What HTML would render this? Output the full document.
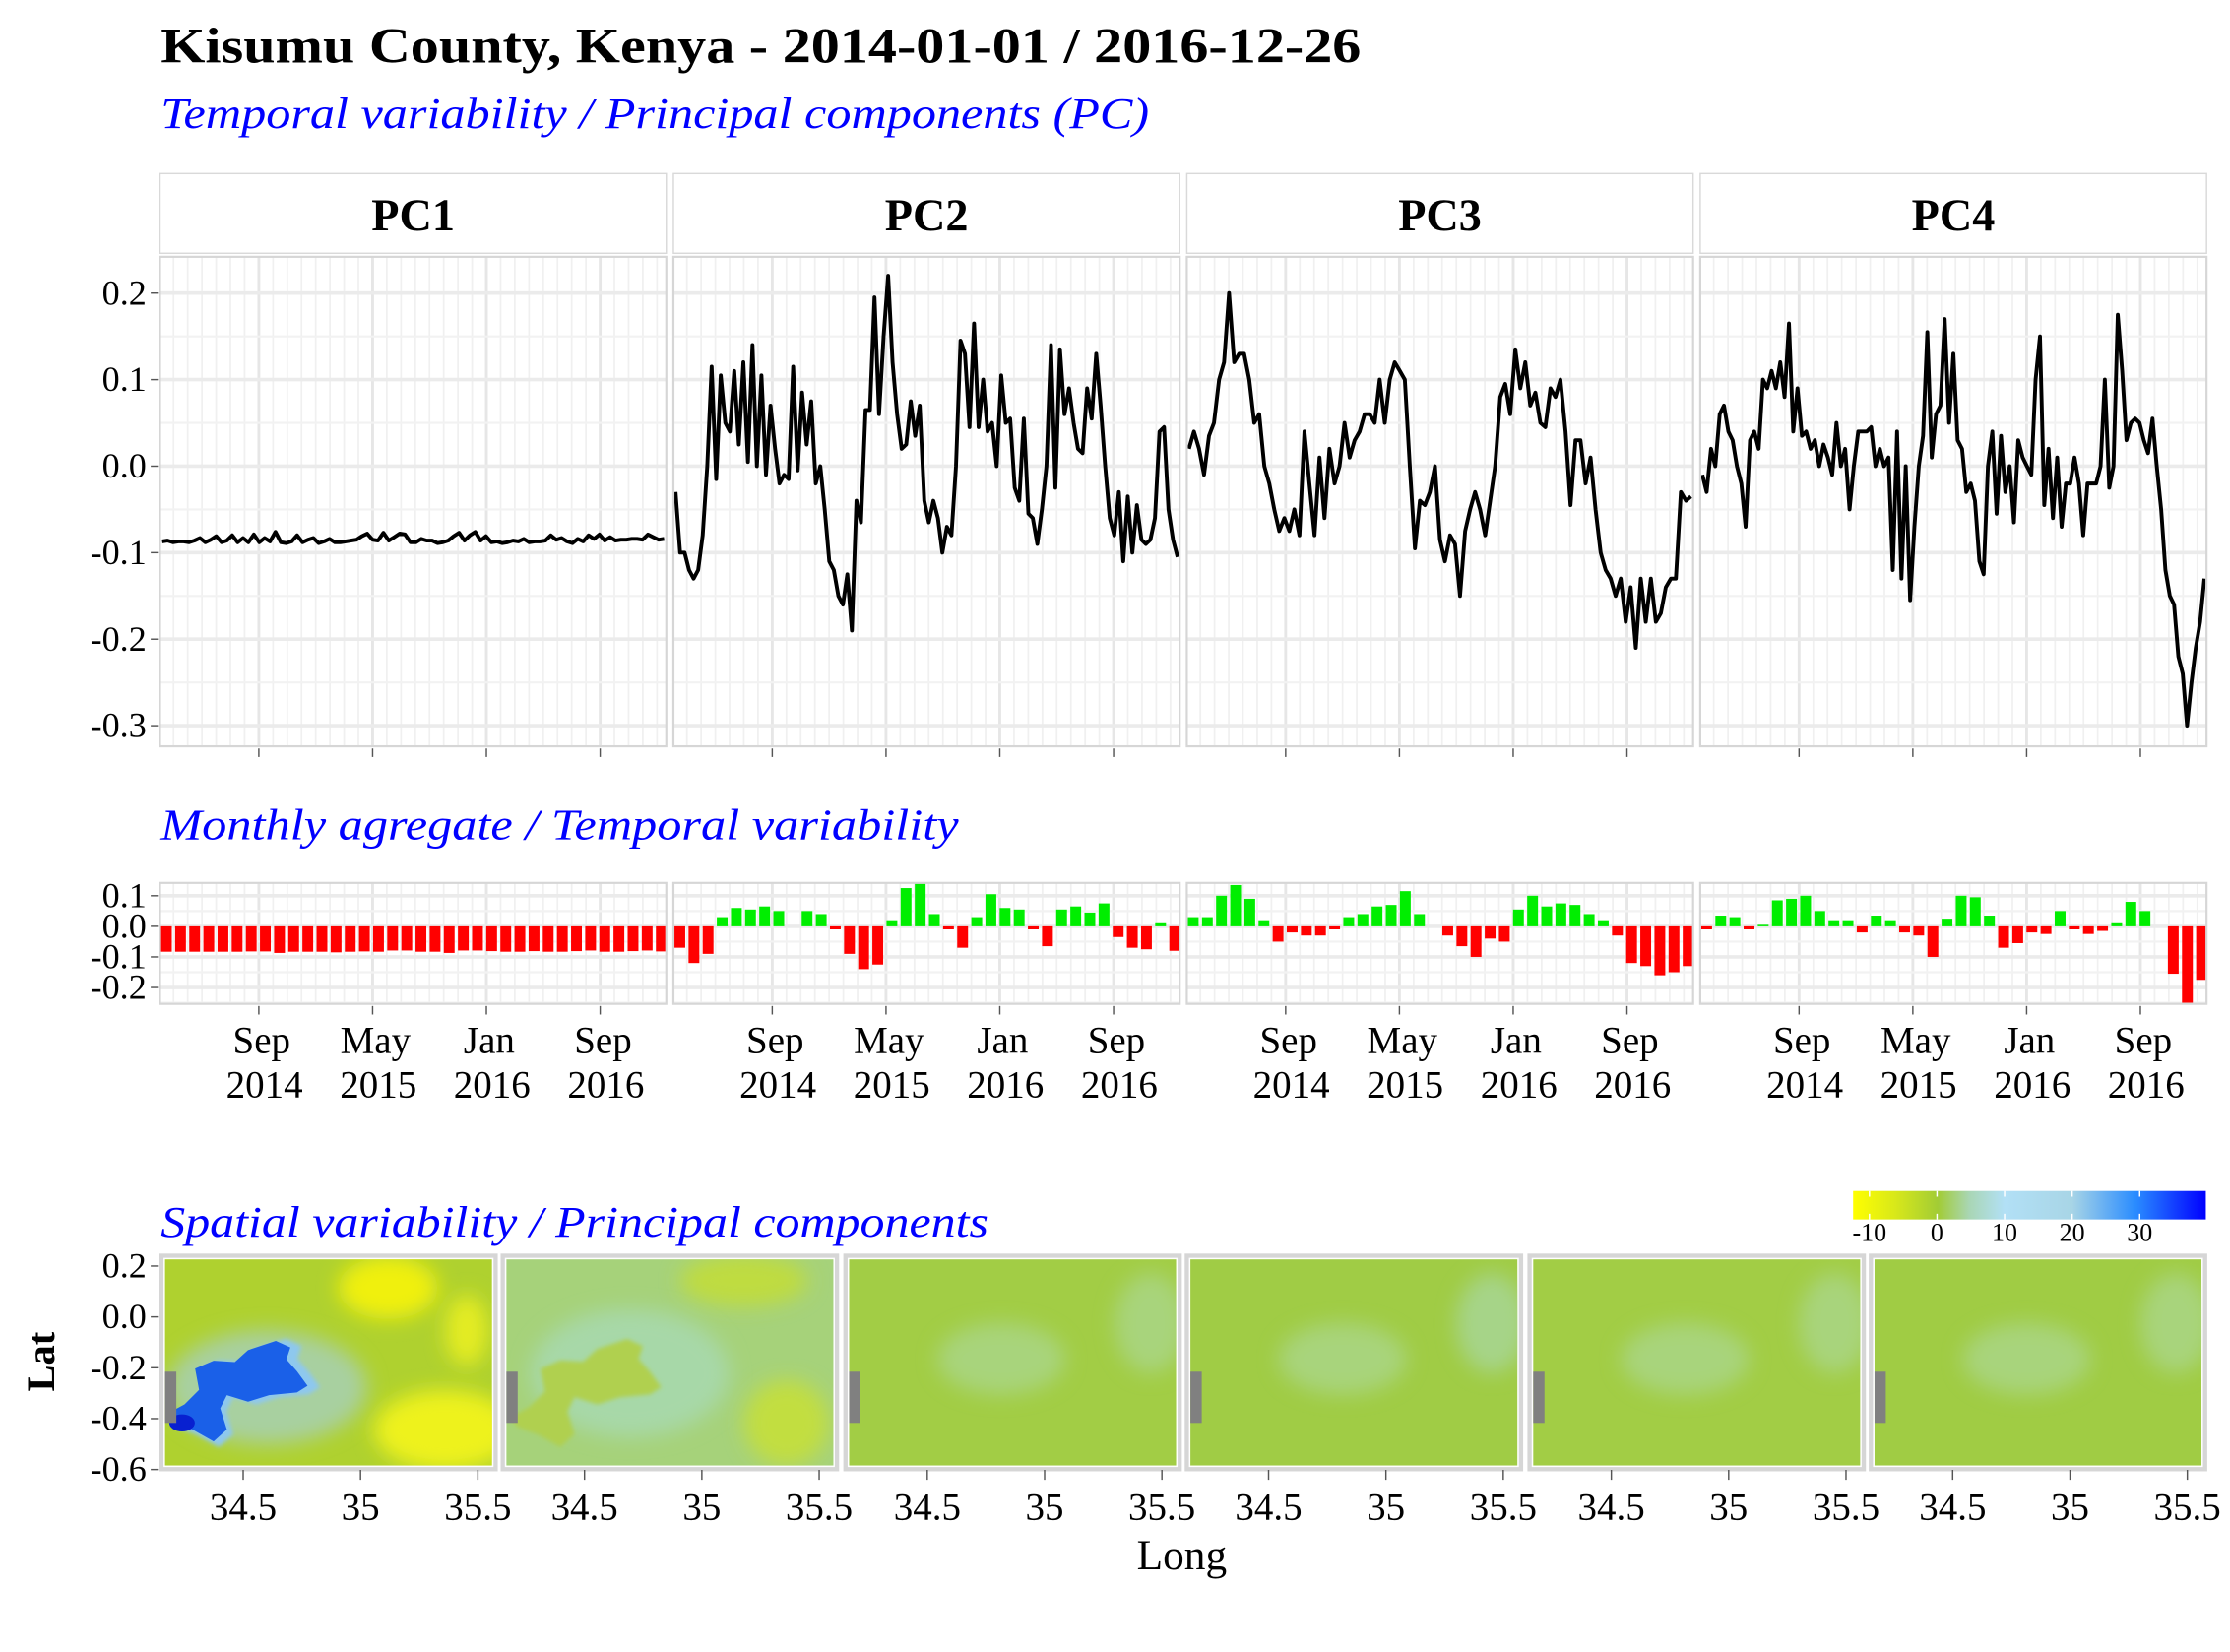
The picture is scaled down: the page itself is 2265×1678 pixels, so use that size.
<!DOCTYPE html>
<html><head><meta charset="utf-8"><style>
html,body{margin:0;padding:0;background:#fff;}
svg{display:block;font-family:"Liberation Serif",serif;}
</style></head><body>
<svg id="chart" width="2265" height="1678" viewBox="0 0 1568 1161" preserveAspectRatio="none" xmlns="http://www.w3.org/2000/svg">
<defs>
<linearGradient id="cbar" x1="0" x2="1" y1="0" y2="0">
<stop offset="0" stop-color="#ffff00"/><stop offset="0.12" stop-color="#d8e81a"/><stop offset="0.24" stop-color="#a2cc35"/>
<stop offset="0.33" stop-color="#a9d6b5"/><stop offset="0.43" stop-color="#b2e0f6"/><stop offset="0.62" stop-color="#a8d5e6"/>
<stop offset="0.8" stop-color="#2a8cff"/><stop offset="1" stop-color="#0000ff"/></linearGradient>
<filter id="blur6" x="-50%" y="-50%" width="200%" height="200%"><feGaussianBlur stdDeviation="7"/></filter>
<filter id="blur2"><feGaussianBlur stdDeviation="1.5"/></filter>
</defs>
<text x="113" y="44" font-size="35" font-weight="bold" textLength="844" lengthAdjust="spacingAndGlyphs">Kisumu County, Kenya - 2014-01-01 / 2016-12-26</text>
<text x="113" y="90" font-size="31" font-style="italic" fill="#0000ff" textLength="695" lengthAdjust="spacingAndGlyphs">Temporal variability / Principal components (PC)</text>
<text x="113" y="590" font-size="31" font-style="italic" fill="#0000ff" textLength="561" lengthAdjust="spacingAndGlyphs">Monthly agregate / Temporal variability</text>
<text x="113" y="869" font-size="31" font-style="italic" fill="#0000ff" textLength="582" lengthAdjust="spacingAndGlyphs">Spatial variability / Principal components</text>
<g id="ts"></g><g id="bars"></g><g id="maps"></g>
</svg>
<script>
const NS="http://www.w3.org/2000/svg";
const pcNames=["PC1","PC2","PC3","PC4"];
const yTicksTS=[0.2,0.1,0.0,-0.1,-0.2,-0.3];
const yTicksBar=[0.1,0.0,-0.1,-0.2];
const monthTicks=["Sep","May","Jan","Sep"];
const yearTicks=["2014","2015","2016","2016"];
const pc1Series=[-0.087,-0.086,-0.088,-0.087,-0.087,-0.088,-0.086,-0.083,-0.088,-0.085,-0.081,-0.088,-0.086,-0.080,-0.088,-0.083,-0.088,-0.079,-0.088,-0.083,-0.087,-0.076,-0.088,-0.089,-0.087,-0.080,-0.088,-0.085,-0.083,-0.089,-0.087,-0.084,-0.088,-0.088,-0.087,-0.086,-0.085,-0.081,-0.078,-0.085,-0.086,-0.077,-0.086,-0.082,-0.078,-0.079,-0.088,-0.088,-0.084,-0.086,-0.086,-0.089,-0.088,-0.086,-0.081,-0.077,-0.086,-0.080,-0.076,-0.086,-0.081,-0.088,-0.087,-0.089,-0.088,-0.086,-0.087,-0.084,-0.088,-0.087,-0.087,-0.086,-0.080,-0.085,-0.083,-0.087,-0.089,-0.084,-0.087,-0.080,-0.084,-0.079,-0.086,-0.082,-0.086,-0.085,-0.085,-0.084,-0.084,-0.085,-0.079,-0.082,-0.085,-0.084];
const pc2Series=[-0.03,-0.1,-0.1,-0.12,-0.13,-0.12,-0.08,0.0,0.115,-0.015,0.105,0.05,0.04,0.11,0.025,0.12,0.005,0.14,0.0,0.105,-0.01,0.07,0.02,-0.02,-0.01,-0.015,0.115,-0.005,0.085,0.025,0.075,-0.02,0.0,-0.05,-0.11,-0.12,-0.15,-0.16,-0.125,-0.19,-0.04,-0.065,0.065,0.065,0.195,0.06,0.15,0.22,0.12,0.06,0.02,0.025,0.075,0.035,0.07,-0.04,-0.065,-0.04,-0.06,-0.1,-0.07,-0.08,0.0,0.145,0.13,0.045,0.165,0.045,0.1,0.04,0.05,0.0,0.105,0.05,0.055,-0.025,-0.04,0.055,-0.055,-0.06,-0.09,-0.05,0.0,0.14,-0.025,0.135,0.06,0.09,0.05,0.02,0.015,0.09,0.055,0.13,0.07,0.0,-0.06,-0.08,-0.03,-0.11,-0.035,-0.1,-0.045,-0.085,-0.09,-0.085,-0.06,0.04,0.045,-0.05,-0.085,-0.105];
const pc3Series=[0.02,0.04,0.02,-0.01,0.035,0.05,0.1,0.12,0.2,0.12,0.13,0.13,0.1,0.05,0.06,0.0,-0.02,-0.05,-0.075,-0.06,-0.075,-0.05,-0.08,0.04,-0.02,-0.08,0.01,-0.06,0.02,-0.02,0.0,0.05,0.01,0.03,0.04,0.06,0.06,0.05,0.1,0.05,0.1,0.12,0.11,0.1,0.0,-0.095,-0.04,-0.045,-0.03,0.0,-0.085,-0.11,-0.08,-0.09,-0.15,-0.075,-0.05,-0.03,-0.05,-0.08,-0.04,0.0,0.08,0.095,0.06,0.135,0.09,0.12,0.07,0.085,0.05,0.045,0.09,0.08,0.1,0.04,-0.045,0.03,0.03,-0.02,0.01,-0.05,-0.1,-0.12,-0.13,-0.15,-0.13,-0.18,-0.14,-0.21,-0.13,-0.18,-0.13,-0.18,-0.17,-0.14,-0.13,-0.13,-0.03,-0.04,-0.035];
const pc4Series=[-0.01,-0.03,0.02,0.0,0.06,0.07,0.04,0.03,0.0,-0.02,-0.07,0.03,0.04,0.02,0.1,0.09,0.11,0.09,0.12,0.08,0.165,0.04,0.09,0.035,0.04,0.02,0.03,0.0,0.025,0.01,-0.01,0.05,0.0,0.02,-0.05,0.0,0.04,0.04,0.04,0.045,0.0,0.02,0.0,0.01,-0.12,0.04,-0.13,0.0,-0.155,-0.07,0.0,0.035,0.155,0.01,0.06,0.07,0.17,0.05,0.13,0.03,0.02,-0.03,-0.02,-0.04,-0.11,-0.125,0.0,0.04,-0.055,0.035,-0.03,0.0,-0.065,0.03,0.01,0.0,-0.01,0.1,0.15,-0.045,0.02,-0.06,0.01,-0.07,-0.02,-0.02,0.01,-0.02,-0.08,-0.02,-0.02,-0.02,0.0,0.1,-0.025,0.0,0.175,0.11,0.03,0.05,0.055,0.05,0.03,0.015,0.055,0.0,-0.05,-0.12,-0.15,-0.16,-0.22,-0.24,-0.3,-0.25,-0.21,-0.18,-0.13];
const pc1Monthly=[-0.083,-0.083,-0.083,-0.083,-0.083,-0.083,-0.082,-0.082,-0.087,-0.083,-0.083,-0.083,-0.085,-0.083,-0.082,-0.083,-0.079,-0.079,-0.083,-0.083,-0.087,-0.079,-0.079,-0.081,-0.083,-0.083,-0.081,-0.083,-0.083,-0.081,-0.079,-0.083,-0.083,-0.081,-0.079,-0.082];
const pc2Monthly=[-0.07,-0.12,-0.09,0.03,0.06,0.055,0.065,0.05,0.0,0.05,0.04,-0.01,-0.09,-0.14,-0.125,0.02,0.125,0.14,0.04,-0.01,-0.07,0.03,0.105,0.06,0.055,-0.01,-0.065,0.055,0.065,0.045,0.075,-0.035,-0.07,-0.075,0.01,-0.08];
const pc3Monthly=[0.03,0.03,0.1,0.135,0.09,0.02,-0.05,-0.02,-0.03,-0.03,-0.01,0.03,0.04,0.065,0.07,0.115,0.04,0.0,-0.03,-0.065,-0.1,-0.04,-0.05,0.055,0.1,0.065,0.075,0.07,0.04,0.02,-0.03,-0.12,-0.13,-0.16,-0.15,-0.13];
const pc4Monthly=[-0.01,0.035,0.03,-0.01,0.005,0.085,0.09,0.1,0.05,0.02,0.02,-0.02,0.035,0.02,-0.02,-0.03,-0.1,0.025,0.1,0.095,0.035,-0.07,-0.055,-0.02,-0.025,0.05,-0.01,-0.025,-0.015,0.01,0.08,0.05,0.0,-0.155,-0.25,-0.175];
const lonTicks=[34.5,35,35.5];
const latTicks=[0.2,0.0,-0.2,-0.4,-0.6];
const cbarTicks=[-10,0,10,20,30];

const series=[pc1Series,pc2Series,pc3Series,pc4Series];
const monthly=[pc1Monthly,pc2Monthly,pc3Monthly,pc4Monthly];
const PX=[112,473,834,1195], PW=357;
function mk(tag,attrs,parent,txt){const e=document.createElementNS(NS,tag);for(const k in attrs)e.setAttribute(k,attrs[k]);if(txt!==undefined)e.textContent=txt;parent.appendChild(e);return e;}
const yTS=v=>327.6-v*608;
const yBar=v=>651-v*215;
const fmt=v=>v.toFixed(1).replace("-0.0","0.0");
const ts=document.getElementById('ts'), bg=document.getElementById('bars'), mg=document.getElementById('maps');

yTicksTS.forEach(v=>{const t=mk('text',{x:103,y:yTS(v)+8,'font-size':25,'text-anchor':'end'},ts,fmt(v));

mk('line',{x1:106,x2:111,y1:yTS(v),y2:yTS(v),stroke:'#555','stroke-width':1},ts);});
yTicksBar.forEach(v=>{const t=mk('text',{x:103,y:yBar(v)+8,'font-size':25,'text-anchor':'end'},bg,fmt(v));

mk('line',{x1:106,x2:111,y1:yBar(v),y2:yBar(v),stroke:'#555','stroke-width':1},bg);});

PX.forEach((px,i)=>{
  const s=mk('rect',{x:px+0.5,y:122,width:PW-1,height:56,fill:'#fff',stroke:'#d9d9d9','stroke-width':1},ts);
  
  const st=mk('text',{x:px+PW/2,y:162,'font-size':32,'font-weight':'bold','text-anchor':'middle'},ts,pcNames[i]);
  
  const p=mk('rect',{x:px,y:180,width:PW,height:345,fill:'#fff'},ts);
  
  for(let k=-7;k<=29;k++){const x=px+70+k*10;if(x<=px+1||x>=px+PW-1)continue;const maj=(k%8===0);
    mk('line',{x1:x,x2:x,y1:180,y2:525,stroke:maj?'#e6e6e6':'#f0f0f0','stroke-width':maj?2:1.2},ts);
    mk('line',{x1:x,x2:x,y1:620,y2:706,stroke:maj?'#e6e6e6':'#f0f0f0','stroke-width':maj?2:1.2},bg);}
  for(let v=-0.35;v<=0.25;v+=0.05){const y=yTS(v);if(y<181||y>524)continue;const maj=Math.abs(Math.round(v*20))%2===0;
    mk('line',{x1:px,x2:px+PW,y1:y,y2:y,stroke:maj?'#ebebeb':'#f2f2f2','stroke-width':maj?2.5:1.5},ts);}
  const pts=series[i].map((v,j)=>[px+2+j*(PW-4)/(series[i].length-1),yTS(v)]);
  const l=mk('polyline',{points:pts.map(p=>p[0].toFixed(1)+','+p[1].toFixed(1)).join(' '),fill:'none',stroke:'#000','stroke-width':2.7,'stroke-linejoin':'round'},ts);
  
  mk('rect',{x:px+0.5,y:180.5,width:PW-1,height:344,fill:'none',stroke:'#d6d6d6','stroke-width':1.5},ts);
  for(let k=0;k<4;k++){const x=px+70+k*80;mk('line',{x1:x,x2:x,y1:526,y2:532,stroke:'#555','stroke-width':1},ts);}
  const bp=mk('rect',{x:px,y:620,width:PW,height:86,fill:'none'},bg);
  
  for(let v=-0.25;v<=0.15;v+=0.05){const y=yBar(v);if(y<621||y>705)continue;const maj=Math.abs(Math.round(v*20))%2===0;
    mk('line',{x1:px,x2:px+PW,y1:y,y2:y,stroke:maj?'#ebebeb':'#f2f2f2','stroke-width':maj?2.5:1.5},bg);}
  monthly[i].forEach((v,j)=>{const cx=px+5+j*(PW-9)/35;const y0=yBar(0),y1=yBar(v);
    const r=mk('rect',{x:cx-3.8,y:Math.min(y0,y1),width:7.6,height:Math.abs(y1-y0),fill:v>=0?'#00ee00':'#ff0000'},bg);
    });
  mk('rect',{x:px+0.5,y:620.5,width:PW-1,height:85,fill:'none',stroke:'#d6d6d6','stroke-width':1.5},bg);
  for(let k=0;k<4;k++){const x=px+70+k*80;mk('line',{x1:x,x2:x,y1:707,y2:713,stroke:'#555','stroke-width':1},bg);
    const a=mk('text',{x:x+2,y:740,'font-size':27,'text-anchor':'middle'},bg,monthTicks[k]);
    
    const b=mk('text',{x:x+4,y:771,'font-size':27,'text-anchor':'middle'},bg,yearTicks[k]);
    }
});

const MX=[113,353,594,834,1075,1315], MW=236;
const lonX=(px,l)=>px+58+(l-34.5)*165;
const latY=l=>925.5-l*178.75;
latTicks.forEach(v=>{const t=mk('text',{x:103,y:latY(v)+8,'font-size':25,'text-anchor':'end'},mg,fmt(v));

mk('line',{x1:106,x2:111,y1:latY(v),y2:latY(v),stroke:'#555'},mg);});
const lat=mk('text',{x:0,y:0,'font-size':28,'font-weight':'bold','text-anchor':'middle',transform:'translate(38,957) rotate(-90)'},mg,'Lat');

const lg=mk('text',{x:831,y:1103,'font-size':30,'text-anchor':'middle'},mg,'Long');

const lake="201,941 212,946 209,955 217,964 225,975 217,980 196,982 180,987 164,982 159,992 164,1008 154,1017 138,1008 124,1003 119,996 132,989 143,978 140,962 154,956 170,957 180,948";
const base=['#afd12f','#a6d27a','#a2cd45','#a0cc45','#a2cd45','#a0cc44'];
MX.forEach((px,i)=>{
  const g=mk('g',{},mg);
  mk('rect',{x:px+0.5,y:882.5,width:MW-1,height:150,fill:'#fff',stroke:'#d6d6d6','stroke-width':3},g);
  mk('clipPath',{id:'mc'+(i+1)},g);
  const cp=document.getElementById('mc'+(i+1));mk('rect',{x:px+3,y:885,width:MW-6,height:145},cp);
  const inner=mk('g',{'clip-path':'url(#mc'+(i+1)+')'},g);
  mk('rect',{x:px+3,y:885,width:MW-6,height:145,fill:base[i]},inner);
  const off=px-113;
  if(i===0){
    mk('ellipse',{cx:px+160,cy:905,rx:35,ry:22,fill:'#f0f010',filter:'url(#blur6)'},inner);
    mk('ellipse',{cx:px+200,cy:1005,rx:50,ry:28,fill:'#eef21a',filter:'url(#blur6)'},inner);
    mk('ellipse',{cx:px+215,cy:935,rx:15,ry:25,fill:'#e4ec20',filter:'url(#blur6)'},inner);
    mk('ellipse',{cx:px+75,cy:975,rx:70,ry:40,fill:'#a8d0a0',filter:'url(#blur6)'},inner);
    mk('polygon',{points:lake,fill:'#8ec8ee',filter:'url(#blur2)'},inner);
    mk('polygon',{points:lake,fill:'#1a60e8',transform:'translate(100,960) scale(0.93) translate(-100,-960)'},inner);
    mk('ellipse',{cx:128,cy:1000,rx:9,ry:6,fill:'#0820d0'},inner);
  } else if(i===1){
    mk('ellipse',{cx:px+170,cy:900,rx:45,ry:18,fill:'#bfdc40',filter:'url(#blur6)'},inner);
    mk('ellipse',{cx:px+200,cy:1000,rx:30,ry:30,fill:'#c2de40',filter:'url(#blur6)'},inner);
    mk('ellipse',{cx:px+90,cy:965,rx:70,ry:45,fill:'#a7d8a8',filter:'url(#blur6)'},inner);
    mk('polygon',{points:lake,fill:'#b0d050',transform:'translate('+off+',0)',filter:'url(#blur2)'},inner);
  } else {
    mk('ellipse',{cx:px+110,cy:955,rx:45,ry:25,fill:'#a8d47c',filter:'url(#blur6)'},inner);
    mk('ellipse',{cx:px+215,cy:930,rx:25,ry:35,fill:i===3?'#a6d488':'#a8d47c',filter:'url(#blur6)'},inner);
  }
  mk('rect',{x:px+3,y:964,width:8,height:36,fill:'#808080'},inner);
  for(let k=0;k<3;k++){const x=lonX(px,lonTicks[k]);mk('line',{x1:x,x2:x,y1:1033,y2:1040,stroke:'#555'},mg);
    const t=mk('text',{x:x,y:1068,'font-size':27,'text-anchor':'middle'},mg,String(lonTicks[k]));
    }
});
const cb=mk('rect',{x:1303,y:837,width:248,height:20,fill:'url(#cbar)'},mg);

cbarTicks.forEach(v=>{const x=1362+v*4.75;
  mk('line',{x1:x,x2:x,y1:837,y2:841,stroke:'#fff'},mg);mk('line',{x1:x,x2:x,y1:853,y2:857,stroke:'#fff'},mg);
  const t=mk('text',{x:x,y:872,'font-size':18,'text-anchor':'middle'},mg,String(v));
  });
</script>
</body></html>
